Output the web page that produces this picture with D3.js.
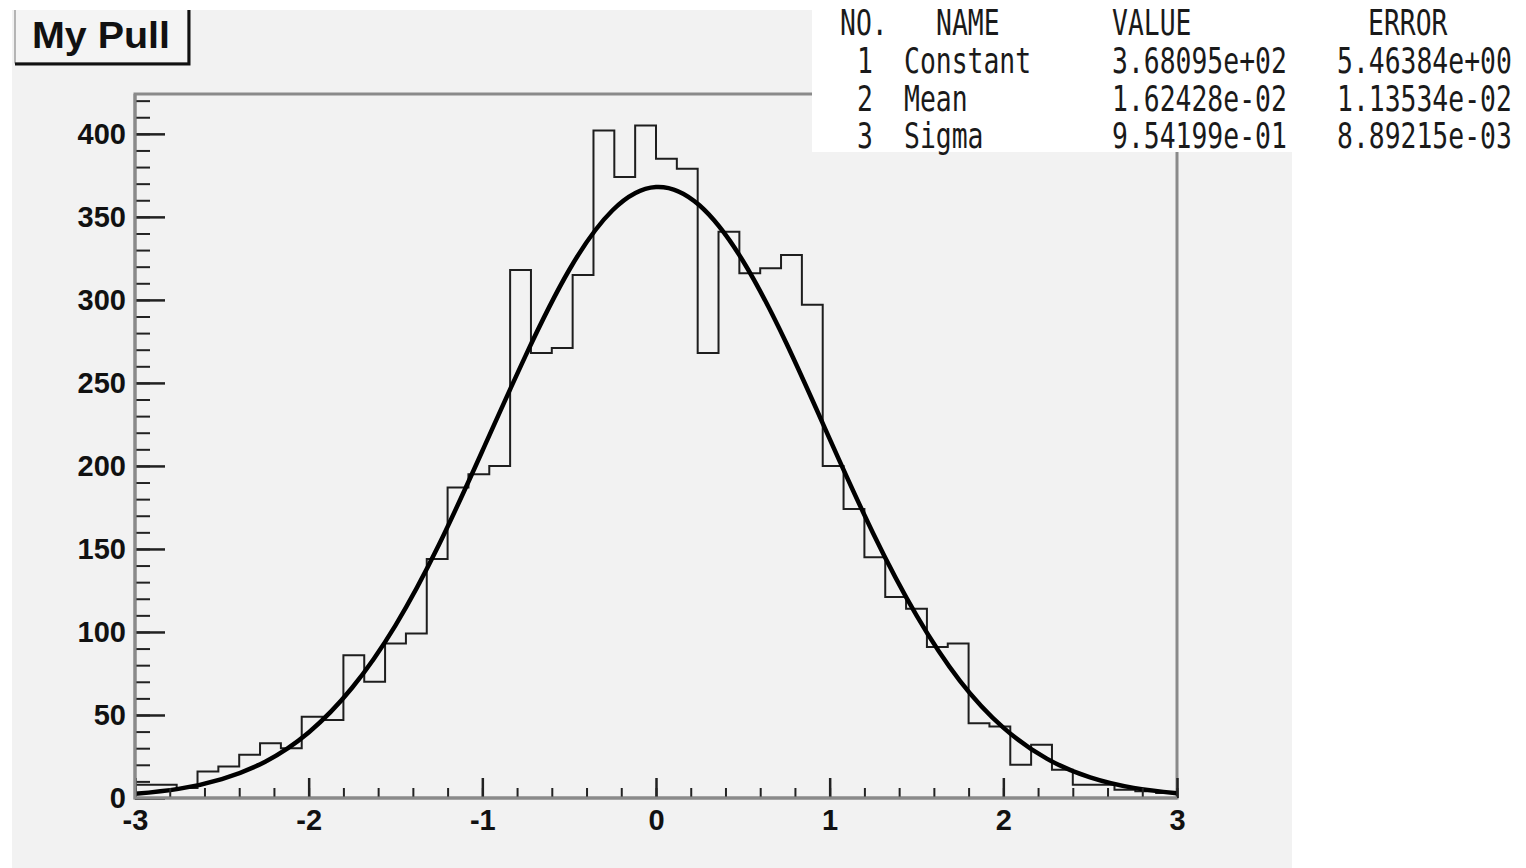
<!DOCTYPE html>
<html>
<head>
<meta charset="utf-8">
<script src="https://cdn.jsdelivr.net/npm/d3@7"></script>
<style>
  body { margin: 0; background: #fff; }
  svg { display: block; }
</style>
</head>
<body>
<svg id="pull"></svg>
<script>
// histogram contents, 50 bins from -3 to 3
const counts = [8, 8, 6, 16, 19, 26, 33, 30, 49, 47,
                86, 70, 93, 99, 144, 187, 195, 200, 318, 268,
                271, 315, 402, 374, 405, 385, 379, 268, 341, 316,
                319, 327, 297, 200, 174, 145, 121, 114, 91, 93,
                45, 43, 20, 32, 17, 8, 8, 5, 4, 3];
const xMin = -3, xMax = 3;

// gaussian fit curve
const fitX = [-3, -2.75, -2.5, -2.25, -2, -1.75, -1.5, -1.25, -1, -0.75, -0.5, -0.25,
              0, 0.25, 0.5, 0.75, 1, 1.25, 1.5, 1.75, 2, 2.25, 2.5, 2.75, 3];
const fitY = [2.5, 5.5, 11.4, 21.9, 39.5, 66.4, 104, 152.5, 209, 266.6, 318, 354,
              368, 357, 323.6, 274, 216.3, 159.5, 110, 70.6, 42.4, 23.7, 12.4, 6.1, 2.8];

// axis ticks
const xMajor = [-3, -2, -1, 0, 1, 2, 3];
const yMajor = [0, 50, 100, 150, 200, 250, 300, 350, 400];

// fit panel
const statHeaders = ["NO.", "NAME", "VALUE", "ERROR"];
const parNo = ["1", "2", "3"];
const parNames = ["Constant", "Mean", "Sigma"];
const parValues = ["3.68095e+02", "1.62428e-02", "9.54199e-01"];
const parErrors = ["5.46384e+00", "1.13534e-02", "8.89215e-03"];

const title = "My Pull";

const width = 1526;
const height = 868;
const margin = ({ top: 94, right: 349, bottom: 70, left: 135 });

const svg = d3.select("#pull")
    .attr("width", width)
    .attr("height", height);

// canvas background
svg.append("rect")
    .attr("x", 12).attr("y", 10)
    .attr("width", 1280).attr("height", height - 10)
    .attr("fill", "#f2f2f2");

let x = d3.scaleLinear()
    .domain([xMin, xMax])
    .range([margin.left, width - margin.right]);

let y = d3.scaleLinear()
    .domain([0, 424])
    .range([height - margin.bottom, margin.top]);

// frame
svg.append("rect")
    .attr("x", x(xMin)).attr("y", y(424))
    .attr("width", x(xMax) - x(xMin)).attr("height", y(0) - y(424))
    .attr("fill", "none")
    .attr("stroke", "#8a8a8a")
    .attr("stroke-width", 3);

// histogram outline
const binW = (xMax - xMin) / counts.length;
const histPts = counts.map((c, i) => [xMin + i * binW, c]);
histPts.push([xMax, counts[counts.length - 1]]);

svg.append("path")
    .datum(histPts)
    .attr("fill", "none")
    .attr("stroke", "#1e1e1e")
    .attr("stroke-width", 2)
    .attr("d", d3.line()
        .x(d => x(d[0]))
        .y(d => y(d[1]))
        .curve(d3.curveStepAfter));

// fit curve
svg.append("path")
    .datum(fitX.map((v, i) => [v, fitY[i]]))
    .attr("fill", "none")
    .attr("stroke", "#000")
    .attr("stroke-width", 4.5)
    .attr("d", d3.line()
        .x(d => x(d[0]))
        .y(d => y(d[1]))
        .curve(d3.curveNatural));

// axes
const styleAxis = g => {
    g.select(".domain").remove();
    g.selectAll(".tick line").attr("stroke", "#222");
};

svg.append("g")
    .attr("transform", `translate(${x(xMin)},0)`)
    .call(d3.axisLeft(y).tickValues(d3.range(0, 421, 10)).tickSize(-15).tickFormat(""))
    .call(styleAxis)
    .call(g => g.selectAll(".tick line").attr("stroke-width", 2));

svg.append("g")
    .attr("transform", `translate(${x(xMin)},0)`)
    .call(d3.axisLeft(y).tickValues(yMajor).tickSize(-30).tickPadding(9))
    .call(styleAxis)
    .call(g => g.selectAll(".tick line").attr("stroke-width", 2.5))
    .call(g => g.selectAll("text")
        .attr("font-family", "Liberation Sans, Arial, sans-serif")
        .attr("font-weight", "bold")
        .attr("font-size", 29)
        .attr("fill", "#111"));

svg.append("g")
    .attr("transform", `translate(0,${y(0)})`)
    .call(d3.axisBottom(x).tickValues(d3.range(-15, 16).map(d => d / 5)).tickSize(-10).tickFormat(""))
    .call(styleAxis)
    .call(g => g.selectAll(".tick line").attr("stroke-width", 2));

svg.append("g")
    .attr("transform", `translate(0,${y(0)})`)
    .call(d3.axisBottom(x).tickValues(xMajor).tickSize(-20).tickPadding(11).tickFormat(d => String(d)))
    .call(styleAxis)
    .call(g => g.selectAll(".tick line").attr("stroke-width", 2.5))
    .call(g => g.selectAll("text")
        .attr("font-family", "Liberation Sans, Arial, sans-serif")
        .attr("font-weight", "bold")
        .attr("font-size", 29)
        .attr("fill", "#111"));

// axis lines (left + bottom)
svg.append("path")
    .attr("d", `M${x(xMin)},${y(424)}V${y(0)}H${x(xMax)}`)
    .attr("fill", "none")
    .attr("stroke", "#8a8a8a")
    .attr("stroke-width", 3);

// fit parameter panel
svg.append("rect")
    .attr("x", 812).attr("y", 0)
    .attr("width", width - 812).attr("height", 152)
    .attr("fill", "#fff");
svg.append("rect")
    .attr("x", 1292).attr("y", 0)
    .attr("width", width - 1292).attr("height", height)
    .attr("fill", "#fff");

const panel = svg.append("g")
    .attr("font-family", "DejaVu Sans Mono, Liberation Mono, monospace")
    .attr("font-size", 32)
    .attr("fill", "#1a1a1a");

// narrow, tall monospace look of the reference: squeeze horizontally
const charW = 15.9;
const squeeze = charW / (0.602 * 32);
const putText = (str, px, py) => panel.append("text")
    .attr("transform", `translate(${px},${py}) scale(${squeeze},1.12)`)
    .text(str);

const headerX = [840, 936, 1112, 1368];
statHeaders.forEach((h, i) => putText(h, headerX[i], 35));

const rowY = [73, 111, 148];
parNames.forEach((n, i) => {
    putText(parNo[i], 857, rowY[i]);
    putText(n, 904, rowY[i]);
    putText(parValues[i], 1112, rowY[i]);
    putText(parErrors[i], 1337, rowY[i]);
});

// title box
svg.append("rect")
    .attr("x", 15).attr("y", 8)
    .attr("width", 173).attr("height", 55)
    .attr("fill", "#f4f4f4")
    .attr("stroke", "#777")
    .attr("stroke-width", 1);
svg.append("path")
    .attr("d", "M189,8V64H15")
    .attr("fill", "none")
    .attr("stroke", "#111")
    .attr("stroke-width", 3);
svg.append("rect")
    .attr("x", 0).attr("y", 0).attr("width", 812).attr("height", 10)
    .attr("fill", "#fff");

svg.append("text")
    .attr("x", 32).attr("y", 48)
    .attr("font-family", "Liberation Sans, Arial, sans-serif")
    .attr("font-weight", "bold")
    .attr("font-size", 36)
    .attr("textLength", 138)
    .attr("lengthAdjust", "spacingAndGlyphs")
    .attr("fill", "#111")
    .text(title);
</script>
</body>
</html>
